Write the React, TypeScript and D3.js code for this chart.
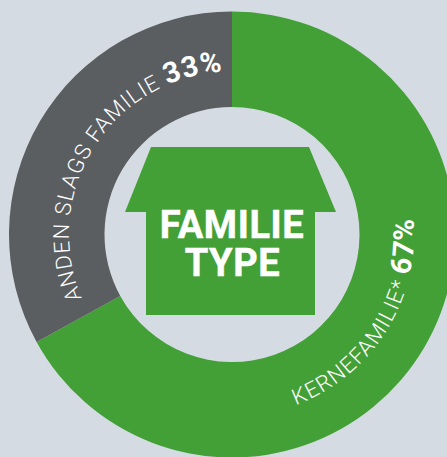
import React from 'react';
import * as d3 from 'd3';

const categories = ['KERNEFAMILIE*', 'ANDEN SLAGS FAMILIE'];
const values = [67, 33];
const percentLabels = ['67%', '33%'];
const titleLines = ['FAMILIE', 'TYPE'];

const WIDTH = 447;
const HEIGHT = 457;
const cx = 232;
const cy = 234.5;
const GREEN = '#43a037';
const GREY = '#5b5e60';
const BG = '#d5dbe2';
const FONT = 'Roboto, sans-serif';

const rad = (deg: number) => (deg * Math.PI) / 180 - Math.PI / 2;

// label paths: grey one runs clockwise, green one runs back the other way
const greyPath = d3.path();
greyPath.arc(cx, cy, 163, rad(247), rad(359), false);
const greenPath = d3.path();
greenPath.arc(cx, cy, 182, rad(159.5), rad(70), true);

const housePoints: [number, number][] = [
  [151, 147], [309, 147], [336, 212], [315, 212], [315, 315], [146, 315], [146, 212], [125, 212],
];

export default function App() {
  const pie = d3.pie<number>().sort(null);
  const slices = pie(values);
  const arc = d3.arc<d3.PieArcDatum<number>>().innerRadius(127.5).outerRadius(223);
  const colors = d3.scaleOrdinal<number, string>().domain([0, 1]).range([GREEN, GREY]);

  return (
    <svg width={WIDTH} height={HEIGHT} style={{ position: 'absolute', left: 0, top: 0, background: BG }}>
      <defs>
        <path id="greyLabel" d={greyPath.toString()} />
        <path id="greenLabel" d={greenPath.toString()} />
      </defs>
      <g transform={`translate(${cx},${cy})`}>
        {slices.map((s, i) => (
          <path key={i} d={arc(s) || ''} fill={colors(i)} />
        ))}
      </g>
      <polygon points={housePoints.map((p) => p.join(',')).join(' ')} fill={GREEN} />
      <g fontFamily={FONT} fontWeight={700} fontSize={38} fill="#fff" stroke="#fff" strokeWidth={0.5} textAnchor="middle" letterSpacing={0.6}>
        <text x={232} y={238}>{titleLines[0]}</text>
        <text x={232.5} y={276}>{titleLines[1]}</text>
      </g>
      <text fontFamily={FONT} fontSize={22} fontWeight={300} fill="#fff" letterSpacing={1.05}>
        <textPath href="#greyLabel">
          {categories[1]} <tspan fontWeight={700} fontSize={29} letterSpacing={1}>{percentLabels[1]}</tspan>
        </textPath>
      </text>
      <text fontFamily={FONT} fontSize={22} fontWeight={300} fill="#fff" letterSpacing={1.2}>
        <textPath href="#greenLabel">
          {categories[0]} <tspan fontWeight={700} fontSize={29} letterSpacing={1.2}>{percentLabels[0]}</tspan>
        </textPath>
      </text>
    </svg>
  );
}
